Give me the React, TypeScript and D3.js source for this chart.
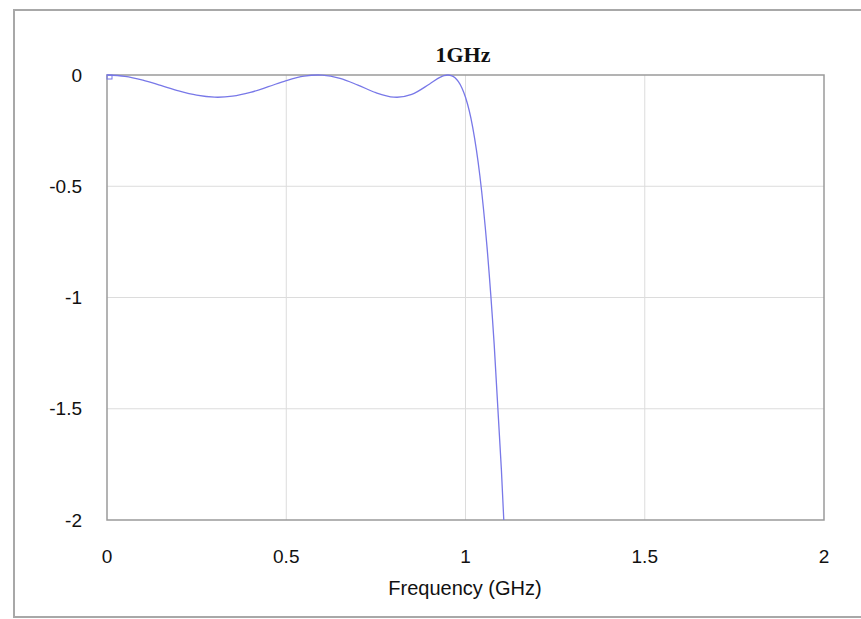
import React from "react";
import * as d3 from "d3";

const freqGHz = [0, 0.05, 0.1, 0.15, 0.2, 0.25, 0.3, 0.309, 0.35, 0.4, 0.45, 0.5, 0.55, 0.588, 0.6, 0.65, 0.7, 0.75, 0.8, 0.809, 0.85, 0.9, 0.93, 0.94, 0.951, 0.96, 0.97, 0.99, 1.0, 1.02, 1.04, 1.06, 1.08, 1.1, 1.12];
const gainDb = [0, -0.0062, -0.0233, -0.047, -0.0717, -0.0909, -0.0998, -0.1, -0.0954, -0.0783, -0.0525, -0.0252, -0.0052, 0, -0.0006, -0.0151, -0.0453, -0.0795, -0.0995, -0.1, -0.0872, -0.0402, -0.0095, -0.0029, 0, -0.0023, -0.0114, -0.0581, -0.1, -0.2338, -0.4517, -0.7727, -1.2106, -1.7703, -2.4465];
const xTicks = [0, 0.5, 1, 1.5, 2];
const yTicks = [0, -0.5, -1, -1.5, -2];
const title = "1GHz";
const xTitle = "Frequency (GHz)";

export default function App() {
  const W = 861, H = 619;
  const left = 107, right = 824, top = 75, bottom = 520;
  const x = d3.scaleLinear().domain([0, 2]).range([left, right]);
  const y = d3.scaleLinear().domain([-2, 0]).range([bottom, top]);
  const pts = freqGHz.map((f, i) => [f, gainDb[i]] as [number, number]);
  const line = d3.line<[number, number]>().x(d => x(d[0])).y(d => y(d[1])).curve(d3.curveMonotoneX);
  const font = "'Liberation Sans', Arial, sans-serif";
  return (
    <svg width={W} height={H} style={{ position: "absolute", left: 0, top: 0, background: "#fff" }}>
      <rect x={0} y={0} width={W} height={H} fill="#fff" />
      <rect x={14} y={10} width={W + 20} height={607} fill="none" stroke="#a8a8a8" strokeWidth={2} />
      <defs>
        <clipPath id="plotclip">
          <rect x={left} y={top - 2} width={right - left} height={bottom - top + 2} />
        </clipPath>
      </defs>
      {xTicks.slice(1, -1).map(t => (
        <line key={"gx" + t} x1={x(t)} x2={x(t)} y1={top} y2={bottom} stroke="#dcdcdc" strokeWidth={1} />
      ))}
      {yTicks.slice(1, -1).map(t => (
        <line key={"gy" + t} x1={left} x2={right} y1={y(t)} y2={y(t)} stroke="#dcdcdc" strokeWidth={1} />
      ))}
      <rect x={left} y={top} width={right - left} height={bottom - top} fill="none" stroke="#9a9a9a" strokeWidth={1.5} />
      <g clipPath="url(#plotclip)">
        <path d={line(pts) || ""} fill="none" stroke="#7878e8" strokeWidth={1.3} />
      </g>
      <rect x={x(0)} y={y(0)} width={5} height={4} fill="none" stroke="#7878e8" strokeWidth={1} />
      {yTicks.map(t => (
        <text key={"yl" + t} x={82} y={y(t)} dy="0.35em" textAnchor="end" fontFamily={font} fontSize={19} fill="#111">
          {t === 0 ? "0" : String(t)}
        </text>
      ))}
      {xTicks.map(t => (
        <text key={"xl" + t} x={x(t)} y={563} textAnchor="middle" fontFamily={font} fontSize={19} fill="#111">
          {String(t)}
        </text>
      ))}
      <text x={465} y={595} textAnchor="middle" fontFamily={font} fontSize={20} fill="#111">{xTitle}</text>
      <text x={463} y={62} textAnchor="middle" fontFamily="'Liberation Serif', 'Times New Roman', serif" fontWeight="bold" fontSize={22} fill="#111">{title}</text>
    </svg>
  );
}
